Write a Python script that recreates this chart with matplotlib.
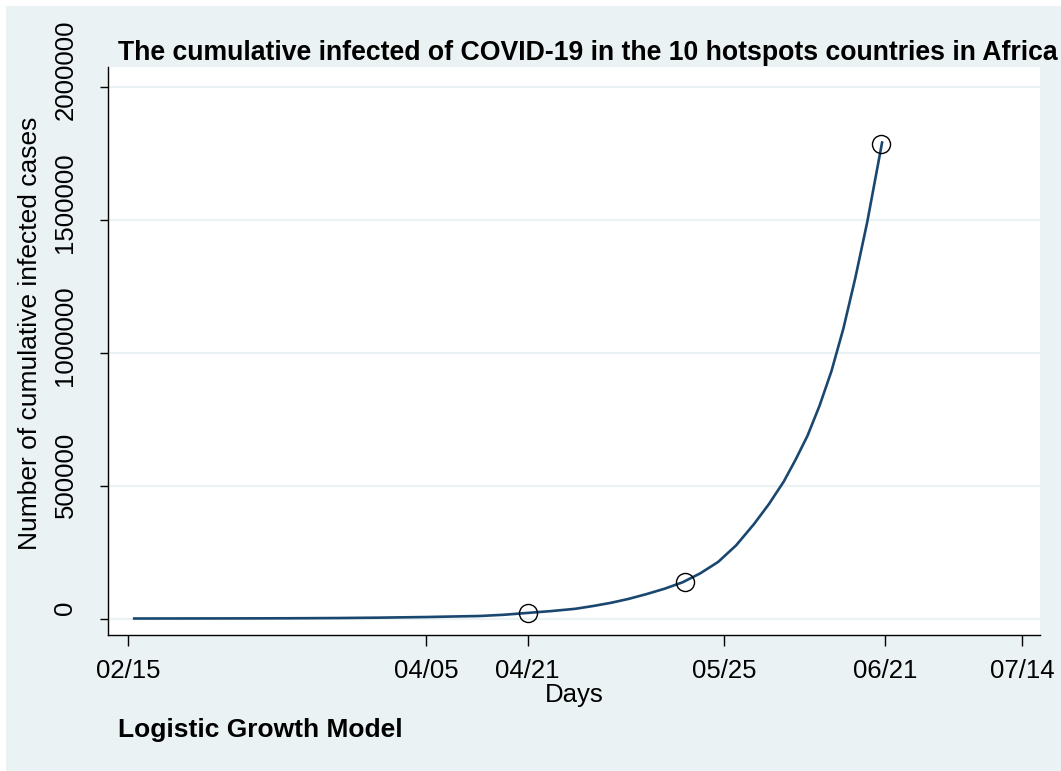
import matplotlib
matplotlib.use("Agg")
import matplotlib.pyplot as plt
import matplotlib.transforms as mtransforms
from matplotlib.patches import Rectangle

# days since 02/15 and fitted cumulative cases
days = [1, 10, 20, 27, 35, 42, 50, 55, 59, 63, 67, 71, 75, 78, 81, 84, 87,
        90, 93, 96, 99, 102, 105, 107.5, 110, 112, 114, 116, 118, 120, 122,
        124, 126.5]
fitted = [0, 200, 500, 900, 1800, 3200, 5600, 7800, 9500, 14000, 21000,
          28000, 36500, 47000, 59000, 74000, 92000, 112000, 136000, 170000,
          213000, 275000, 355000, 430000, 515000, 598000, 688000, 800000,
          930000, 1090000, 1280000, 1490000, 1790000]

# observed cumulative cases
obs_days = [67, 93.4, 126.4]
obs_cases = [21000, 138000, 1786000]

xtick_pos = [0, 50, 67, 100, 127, 150]
xtick_lab = ["02/15", "04/05", "04/21", "05/25", "06/21", "07/14"]
ytick_pos = [0, 500000, 1000000, 1500000, 2000000]

bg = "#EAF2F3"
navy = "#1A476F"
W, H = 1061, 771

plt.rcParams['font.family'] = ['Liberation Sans', 'DejaVu Sans']

fig = plt.figure(figsize=(W / 100, H / 100), dpi=100)
fig.patch.set_facecolor("white")
fig.patches.append(Rectangle((6 / W, 0), 1, 1 - 6 / H, transform=fig.transFigure,
                             facecolor=bg, edgecolor="none", zorder=-10))

ax = fig.add_axes([108 / W, 1 - 635 / H, (1040 - 108) / W, (635 - 67) / H])
ax.set_facecolor("white")

for y in ytick_pos:
    ax.axhline(y, color=bg, lw=1.6, zorder=0)

ax.plot(days, fitted, color=navy, lw=1.9, zorder=2)
ax.plot(obs_days, obs_cases, linestyle="none", marker="o", markersize=13,
        markerfacecolor="none", markeredgecolor="black", markeredgewidth=1.0,
        zorder=3)

ax.set_xlim(-3.4, 153)
ax.set_ylim(-62000, 2074000)

for s in ["top", "right"]:
    ax.spines[s].set_visible(False)
for s in ["left", "bottom"]:
    ax.spines[s].set_linewidth(1.0)
    ax.spines[s].set_color("black")

ax.set_xticks(xtick_pos)
ax.set_xticklabels(xtick_lab)
ax.set_yticks(ytick_pos)
ax.set_yticklabels([str(v) for v in ytick_pos], rotation=90, va="center")
ax.tick_params(axis="x", length=8, width=1.0, pad=9, labelsize=18.5)
ax.tick_params(axis="y", length=6, width=1.0, pad=16, labelsize=18.5)

# rotated y labels sit a bit above their ticks
for lab in ax.get_yticklabels():
    up = 17 if len(lab.get_text()) >= 7 else 10.5
    shift = mtransforms.ScaledTranslation(0, up / 100, fig.dpi_scale_trans)
    lab.set_transform(lab.get_transform() + shift)

ax.set_xlabel("Days", fontsize=18.5, labelpad=0)
ax.set_ylabel("Number of cumulative infected cases", fontsize=19, labelpad=8,
              y=0.532)

fig.text(118 / W, 1 - 53 / H,
         "The cumulative infected of COVID-19 in the 10 hotspots countries in Africa",
         fontsize=19.2, fontweight="bold", ha="left", va="center")
fig.text(118 / W, 1 - 730 / H, "Logistic Growth Model",
         fontsize=19, fontweight="bold", ha="left", va="center")

fig.savefig("out.png", dpi=100, facecolor=fig.get_facecolor())
